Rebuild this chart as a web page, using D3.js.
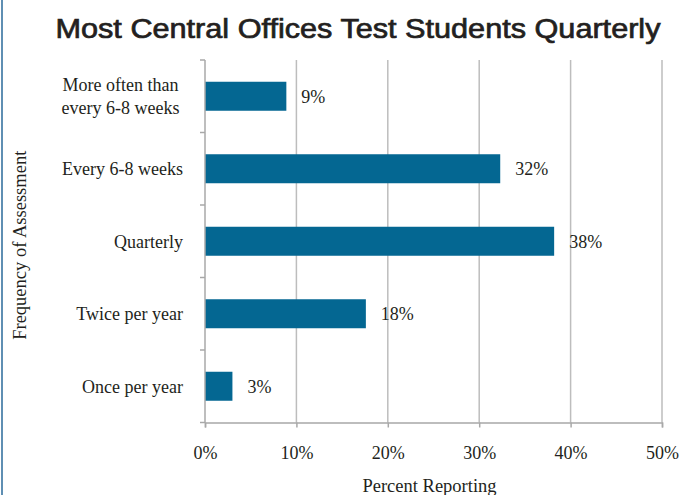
<!DOCTYPE html>
<html lang="en">
<head>
<meta charset="utf-8">
<title>Most Central Offices Test Students Quarterly</title>
<script src="https://cdn.jsdelivr.net/npm/d3@7"></script>
<style>
  body { margin: 0; background: #fff; }
  text { fill: #231f20; }
</style>
</head>
<body>
<script>
// categories, top to bottom
var categories = ["More often than|every 6-8 weeks", "Every 6-8 weeks", "Quarterly", "Twice per year", "Once per year"];
// percent reporting
var values = [8.9, 32.3, 38.2, 17.6, 3.0];
var labels = ["9%", "32%", "38%", "18%", "3%"];
var xTicks = [0, 10, 20, 30, 40, 50];

var W = 691, H = 495;
var pLeft = 205, pRight = 662, pTop = 60, pBottom = 422.5;

var svg = d3.select("body").append("svg")
    .attr("width", W)
    .attr("height", H);

// page border on the left
svg.append("line")
   .attr("x1", 2).attr("x2", 2)
   .attr("y1", 0).attr("y2", H)
   .attr("stroke", "#2a6a9a")
   .attr("stroke-width", 1.5);

var x = d3.scaleLinear().domain([0, 50]).range([pLeft, pRight]);
var y = d3.scaleBand().domain(categories).range([pTop, pBottom]).paddingInner(0.6).paddingOuter(0.3);
var yb = d3.scaleBand().domain(categories).range([pTop, pBottom]);

var serif = "'Liberation Serif', 'Times New Roman', serif";
var fs = "18px";

// gridlines
svg.selectAll("line.grid")
   .data(xTicks.slice(1))
   .enter().append("line")
   .attr("class", "grid")
   .attr("x1", function(d) { return x(d); })
   .attr("x2", function(d) { return x(d); })
   .attr("y1", pTop).attr("y2", pBottom)
   .attr("stroke", "#bdbdbd")
   .attr("stroke-width", 1.5);

// bars
svg.selectAll("rect")
   .data(values)
   .enter().append("rect")
   .attr("x", x(0))
   .attr("y", function(d, i) { return y(categories[i]); })
   .attr("width", function(d) { return x(d) - x(0); })
   .attr("height", y.bandwidth())
   .attr("fill", "#046792");

// value labels
svg.selectAll("text.val")
   .data(values)
   .enter().append("text")
   .attr("class", "val")
   .attr("x", function(d) { return x(d) + 15; })
   .attr("y", function(d, i) { return y(categories[i]) + y.bandwidth() / 2; })
   .attr("dy", "0.35em")
   .attr("font-family", serif)
   .attr("font-size", fs)
   .text(function(d, i) { return labels[i]; });

// x axis
var xAxis = d3.axisBottom(x)
    .tickValues(xTicks)
    .tickFormat(function(d) { return d + "%"; })
    .tickSize(5)
    .tickPadding(19);

var gx = svg.append("g")
   .attr("transform", "translate(0," + pBottom + ")")
   .call(xAxis);
gx.select(".domain").attr("stroke", "#a8a8a8").attr("stroke-width", 1.5);
gx.selectAll(".tick line").attr("stroke", "#a8a8a8").attr("stroke-width", 1.5);
gx.selectAll(".tick text")
  .attr("font-family", serif)
  .attr("font-size", fs)
  .attr("fill", "#231f20");

// y axis (ticks between categories)
var gy = svg.append("g");
gy.append("line")
  .attr("x1", pLeft).attr("x2", pLeft)
  .attr("y1", pTop).attr("y2", pBottom)
  .attr("stroke", "#a8a8a8").attr("stroke-width", 1.5);
var bounds = categories.map(function(c) { return yb(c); }).concat([pBottom]);
gy.selectAll("line.tk")
  .data(bounds)
  .enter().append("line")
  .attr("class", "tk")
  .attr("x1", pLeft - 5).attr("x2", pLeft)
  .attr("y1", function(d) { return d; })
  .attr("y2", function(d) { return d; })
  .attr("stroke", "#a8a8a8").attr("stroke-width", 1.5);

// category labels
categories.forEach(function(c) {
  var lines = c.split("|");
  var cy = yb(c) + yb.bandwidth() / 2;
  var t = svg.append("text")
     .attr("text-anchor", lines.length > 1 ? "middle" : "end")
     .attr("font-family", serif)
     .attr("font-size", fs);
  var lx = lines.length > 1 ? 120.5 : 183;
  lines.forEach(function(l, j) {
    t.append("tspan")
     .attr("x", lx)
     .attr("y", cy + (j - (lines.length - 1) / 2) * 23)
     .attr("dy", "0.35em")
     .text(l);
  });
});

// axis titles
svg.append("text")
   .attr("x", (pLeft + pRight) / 2 - 4)
   .attr("y", 492)
   .attr("text-anchor", "middle")
   .attr("font-family", serif)
   .attr("font-size", "18.5px")
   .text("Percent Reporting");

svg.append("text")
   .attr("transform", "translate(26," + ((pTop + pBottom) / 2 + 4) + ") rotate(-90)")
   .attr("text-anchor", "middle")
   .attr("font-family", serif)
   .attr("font-size", "18.5px")
   .text("Frequency of Assessment");

// title
svg.append("text")
   .attr("x", 358)
   .attr("y", 38)
   .attr("text-anchor", "middle")
   .attr("font-family", "'Liberation Sans', Arial, sans-serif")
   .attr("font-size", "27px")
   .attr("stroke", "#231f20")
   .attr("stroke-width", 0.7)
   .attr("textLength", 605)
   .attr("lengthAdjust", "spacingAndGlyphs")
   .text("Most Central Offices Test Students Quarterly");
</script>
</body>
</html>
